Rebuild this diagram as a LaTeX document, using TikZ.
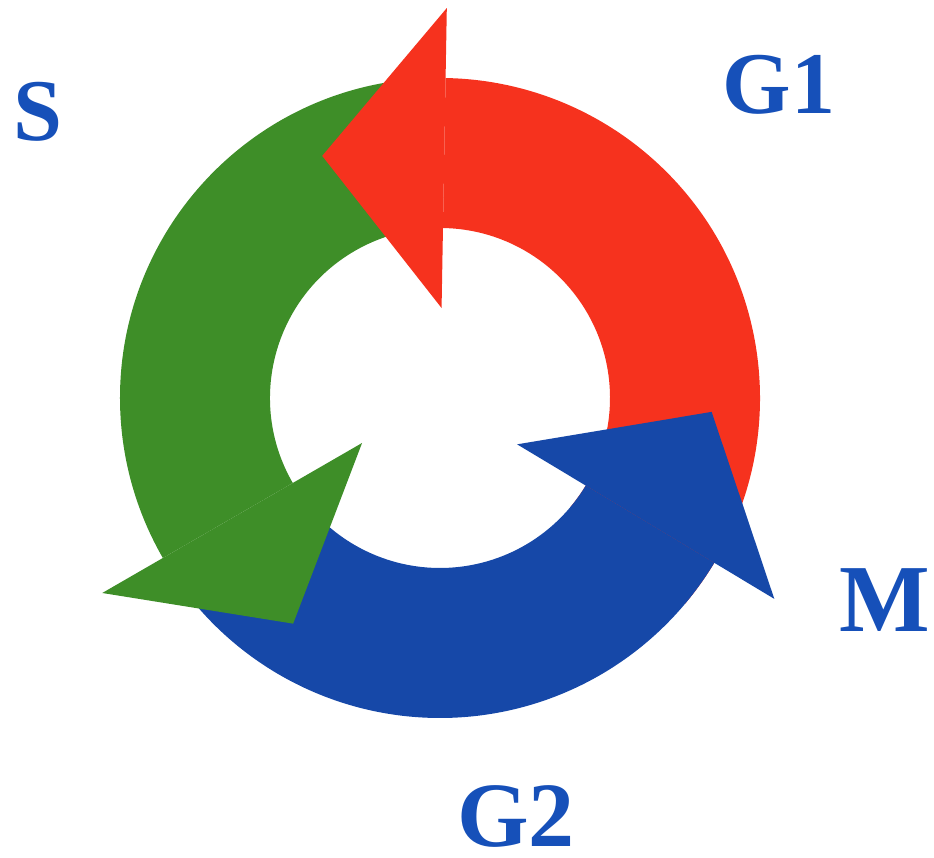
\documentclass[tikz,border=0pt]{standalone}
\usepackage{fontspec}
\setmainfont{Liberation Serif}
\usetikzlibrary{calc}
\definecolor{redA}{RGB}{246,50,30}
\definecolor{greenA}{RGB}{62,142,40}
\definecolor{blueA}{RGB}{22,72,168}
\definecolor{textblue}{RGB}{22,80,185}
\tikzset{
  phase/.style={text=textblue, inner sep=0pt, font=\bfseries\fontsize{88}{88}\selectfont},
}
\newcommand{\shaft}[3]{% color, start angle, end angle
  \fill[#1] ($(c)+(#2:320pt)$) arc[start angle=#2, end angle=#3, radius=320pt]
    -- ($(c)+(#3:170pt)$) arc[start angle=#3, end angle=#2, radius=170pt] -- cycle;}
\newcommand{\ahead}[3]{% color, base angle, head length
  \fill[#1] ($(c)+(#2:90pt)$) -- ($(c)+(#2:390pt)$)
    -- ($(c)+(#2:240pt)+(#2+90:#3)$) -- cycle;}
\begin{document}
\begin{tikzpicture}[x=1pt,y=1pt]
\useasboundingbox (0,0) rectangle (934,858);
\coordinate (c) at (440,460);
% shafts
\shaft{redA}{-40}{89}
\shaft{blueA}{215}{329}
\shaft{greenA}{93}{210}
% heads
\ahead{redA}{89}{122pt}
\ahead{greenA}{210}{122pt}
\ahead{blueA}{329}{128pt}
% labels
\node[phase] (S) at (37.5,746) {S};
\node[phase] (G1) at (779,773) {G1};
\node[phase, font=\bfseries\fontsize{96}{96}\selectfont] (M) at (885,258) {M};
\node[phase, font=\bfseries\fontsize{92}{92}\selectfont] (G2) at (516,42) {G2};
\end{tikzpicture}
\end{document}
